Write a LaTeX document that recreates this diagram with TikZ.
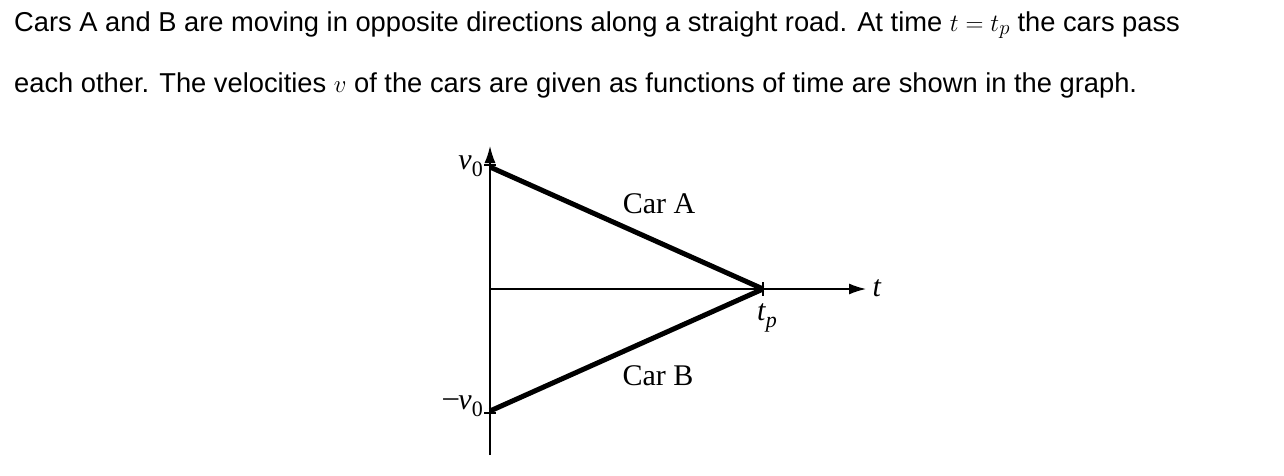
\documentclass[tikz,border=0pt]{standalone}
\usepackage{fontspec}
\setmainfont{Liberation Sans}
\newfontfamily\serifA{Liberation Serif}
\usetikzlibrary{arrows.meta}
\newcommand{\vsym}{\textit{v}}
\newcommand{\sub}[1]{\raisebox{-0.25em}{\fontsize{22}{24}\selectfont #1}}
\begin{document}
\begin{tikzpicture}[x=1pt,y=-1pt,
  body/.style={anchor=west,inner sep=0pt,font=\fontsize{27.3}{30}\selectfont},
  lbl/.style={inner sep=0pt,font=\serifA\fontsize{30}{32}\selectfont},
  axis/.style={line width=1.5pt},
  curve/.style={line width=5pt}]
\useasboundingbox (0,0) rectangle (1284,476);
\node[body] (l1) at (14,25) {Cars $\mathrm{A}$ and $\mathrm{B}$ are moving in opposite directions along a straight road. At time $t=t_p$ the cars pass};
\node[body] (l2) at (14,85) {each other. The velocities $v$ of the cars are given as functions of time are shown in the graph.};
\coordinate (o) at (490,289);
\coordinate (ybot) at (490,455);
\coordinate (ytop) at (490,146);
\coordinate (xend) at (866,289);
\coordinate (a0) at (490,167);
\coordinate (b0) at (490,411);
\coordinate (p) at (763,289);
\draw[axis,-{Latex[length=17pt,width=11pt]}] (ybot) -- (ytop);
\draw[axis,-{Latex[length=17pt,width=11pt]}] (o) -- (xend);
\draw[axis] (484,165) -- (496,165);
\draw[axis] (484,413) -- (496,413);
\draw[axis] (763,282) -- (763,296);
\draw[curve] (a0) -- (p);
\draw[curve] (b0) -- (p);
\node[lbl] (ca) at (659,204) {Car A};
\node[lbl] (cb) at (658,376) {Car B};
\node[lbl,anchor=east] (v0) at (483,166) {\vsym\sub{0}};
\node[lbl,anchor=east] (mv0) at (483,406) {\raisebox{0.1em}{–}\vsym\sub{0}};
\node[lbl] (t) at (877,288) {\textit{t}};
\node[lbl] (tp) at (767,318) {\textit{t}\sub{\textit{p}}};
\end{tikzpicture}
\end{document}
